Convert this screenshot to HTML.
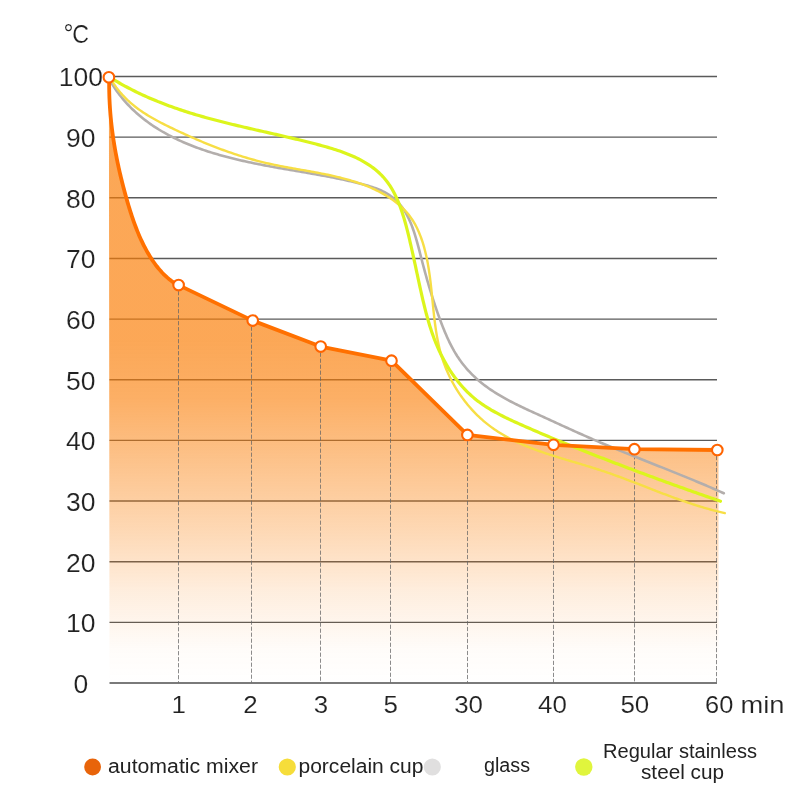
<!DOCTYPE html>
<html><head><meta charset="utf-8"><style>
html,body{margin:0;padding:0;background:#fff;width:800px;height:800px;overflow:hidden;font-family:"Liberation Sans",sans-serif;}
svg{display:block;will-change:transform;}
</style></head><body>
<svg width="800" height="800" viewBox="0 0 800 800">
<defs><linearGradient id="g" x1="0" y1="77" x2="0" y2="683" gradientUnits="userSpaceOnUse"><stop offset="0.0000" stop-color="rgb(250,125,5)" stop-opacity="0.675"/><stop offset="0.4340" stop-color="rgb(250,125,5)" stop-opacity="0.675"/><stop offset="0.5297" stop-color="rgb(250,125,5)" stop-opacity="0.615"/><stop offset="0.6370" stop-color="rgb(250,125,5)" stop-opacity="0.460"/><stop offset="0.7475" stop-color="rgb(250,125,5)" stop-opacity="0.300"/><stop offset="0.8465" stop-color="rgb(250,125,5)" stop-opacity="0.135"/><stop offset="0.9422" stop-color="rgb(250,125,5)" stop-opacity="0.025"/><stop offset="1.0000" stop-color="rgb(250,125,5)" stop-opacity="0.000"/></linearGradient></defs>
<line x1="109.5" y1="683.00" x2="717.0" y2="683.00" stroke="#7a7a7a" stroke-width="2"/>
<line x1="109.5" y1="622.35" x2="717.0" y2="622.35" stroke="#5a5a5a" stroke-width="1.4"/>
<line x1="109.5" y1="561.70" x2="717.0" y2="561.70" stroke="#5a5a5a" stroke-width="1.4"/>
<line x1="109.5" y1="501.05" x2="717.0" y2="501.05" stroke="#5a5a5a" stroke-width="1.4"/>
<line x1="109.5" y1="440.40" x2="717.0" y2="440.40" stroke="#5a5a5a" stroke-width="1.4"/>
<line x1="109.5" y1="379.75" x2="717.0" y2="379.75" stroke="#5a5a5a" stroke-width="1.4"/>
<line x1="109.5" y1="319.10" x2="717.0" y2="319.10" stroke="#5a5a5a" stroke-width="1.4"/>
<line x1="109.5" y1="258.45" x2="717.0" y2="258.45" stroke="#5a5a5a" stroke-width="1.4"/>
<line x1="109.5" y1="197.80" x2="717.0" y2="197.80" stroke="#5a5a5a" stroke-width="1.4"/>
<line x1="109.5" y1="137.15" x2="717.0" y2="137.15" stroke="#5a5a5a" stroke-width="1.4"/>
<line x1="109.5" y1="76.50" x2="717.0" y2="76.50" stroke="#5a5a5a" stroke-width="1.4"/>
<path d="M108.90,77.30 L109.18,78.78 L109.16,80.73 L109.15,82.67 L109.15,84.61 L109.16,86.54 L109.18,88.47 L109.21,90.40 L109.25,92.33 L109.30,94.25 L109.36,96.17 L109.43,98.08 L109.52,100.00 L109.61,101.91 L109.71,103.82 L109.82,105.72 L109.94,107.63 L110.08,109.53 L110.22,111.43 L110.37,113.32 L110.53,115.22 L110.70,117.11 L110.88,119.00 L111.07,120.89 L111.27,122.77 L111.48,124.65 L111.69,126.54 L111.92,128.42 L112.16,130.29 L112.40,132.17 L112.65,134.05 L112.92,135.92 L113.19,137.79 L113.47,139.66 L113.76,141.53 L114.05,143.40 L114.36,145.26 L114.67,147.13 L115.00,148.99 L115.33,150.86 L115.67,152.72 L116.02,154.58 L116.37,156.44 L116.74,158.30 L117.11,160.16 L117.49,162.02 L117.88,163.87 L118.27,165.73 L118.67,167.59 L119.09,169.44 L119.50,171.30 L119.93,173.15 L120.37,175.01 L120.81,176.86 L121.26,178.72 L121.71,180.57 L122.17,182.43 L122.65,184.28 L123.12,186.14 L123.61,187.99 L124.10,189.85 L124.60,191.70 L125.10,193.56 L125.62,195.42 L126.13,197.27 L126.66,199.13 L127.19,200.99 L127.73,202.85 L128.28,204.70 L128.84,206.56 L129.40,208.41 L129.98,210.26 L130.56,212.11 L131.16,213.96 L131.76,215.80 L132.38,217.63 L133.00,219.47 L133.64,221.29 L134.30,223.11 L134.96,224.93 L135.64,226.74 L136.33,228.54 L137.04,230.33 L137.76,232.11 L138.50,233.89 L139.25,235.65 L140.02,237.41 L140.81,239.16 L141.61,240.89 L142.43,242.62 L143.27,244.33 L144.12,246.03 L145.00,247.71 L145.89,249.39 L146.81,251.05 L147.74,252.69 L148.70,254.32 L149.67,255.94 L150.67,257.54 L151.69,259.12 L152.73,260.68 L153.80,262.23 L154.89,263.76 L156.01,265.27 L157.15,266.75 L158.32,268.21 L159.53,269.65 L160.76,271.06 L162.02,272.45 L163.31,273.80 L164.64,275.13 L166.01,276.42 L167.40,277.68 L168.84,278.91 L170.31,280.10 L171.83,281.26 L173.38,282.38 L174.97,283.46 L176.61,284.50 L178.60,285.10 L252.70,320.60 L320.66,346.60 L391.50,360.70 L467.40,434.90 L553.50,444.80 L634.40,449.20 L717.30,450.00 L718.5,450.2 L718.5,683 L109.5,683 Z" fill="url(#g)"/>
<line x1="178.5" y1="285.1" x2="178.5" y2="682.5" stroke="#666" stroke-width="1" stroke-dasharray="4.2,1.8" stroke-opacity="0.75"/>
<line x1="251.5" y1="320.6" x2="251.5" y2="682.5" stroke="#666" stroke-width="1" stroke-dasharray="4.2,1.8" stroke-opacity="0.75"/>
<line x1="320.5" y1="346.6" x2="320.5" y2="682.5" stroke="#666" stroke-width="1" stroke-dasharray="4.2,1.8" stroke-opacity="0.75"/>
<line x1="390.5" y1="360.7" x2="390.5" y2="682.5" stroke="#666" stroke-width="1" stroke-dasharray="4.2,1.8" stroke-opacity="0.75"/>
<line x1="467.5" y1="434.9" x2="467.5" y2="682.5" stroke="#666" stroke-width="1" stroke-dasharray="4.2,1.8" stroke-opacity="0.75"/>
<line x1="553.5" y1="444.8" x2="553.5" y2="682.5" stroke="#666" stroke-width="1" stroke-dasharray="4.2,1.8" stroke-opacity="0.75"/>
<line x1="634.5" y1="449.2" x2="634.5" y2="682.5" stroke="#666" stroke-width="1" stroke-dasharray="4.2,1.8" stroke-opacity="0.75"/>
<line x1="716.5" y1="450.0" x2="716.5" y2="682.5" stroke="#666" stroke-width="1" stroke-dasharray="4.2,1.8" stroke-opacity="0.75"/>
<path d="M108.12,77.16 L109.13,78.99 L110.16,80.81 L111.22,82.59 L112.30,84.35 L113.40,86.09 L114.52,87.79 L115.67,89.48 L116.83,91.14 L118.02,92.77 L119.23,94.38 L120.46,95.97 L121.71,97.53 L122.99,99.07 L124.28,100.59 L125.59,102.08 L126.92,103.55 L128.27,104.99 L129.63,106.42 L131.02,107.82 L132.42,109.20 L133.85,110.55 L135.29,111.89 L136.74,113.20 L138.22,114.50 L139.71,115.77 L141.22,117.02 L142.74,118.25 L144.28,119.46 L145.84,120.65 L147.41,121.82 L148.99,122.97 L150.59,124.10 L152.20,125.22 L153.83,126.31 L155.48,127.38 L157.13,128.44 L158.80,129.48 L160.48,130.50 L162.18,131.50 L163.88,132.48 L165.60,133.45 L167.34,134.40 L169.08,135.33 L170.83,136.25 L172.60,137.15 L174.37,138.03 L176.16,138.90 L177.95,139.75 L179.76,140.58 L181.57,141.40 L183.40,142.21 L185.23,143.00 L187.07,143.77 L188.92,144.53 L190.78,145.28 L192.65,146.01 L194.52,146.73 L196.40,147.44 L198.29,148.13 L200.18,148.81 L202.08,149.48 L203.99,150.13 L205.90,150.77 L207.82,151.40 L209.74,152.02 L211.67,152.62 L213.60,153.22 L215.54,153.80 L217.48,154.37 L219.42,154.93 L221.37,155.48 L223.32,156.02 L225.27,156.55 L227.23,157.07 L229.19,157.58 L231.15,158.07 L233.11,158.57 L235.07,159.05 L237.04,159.52 L239.00,159.98 L240.97,160.44 L242.93,160.89 L244.90,161.33 L246.86,161.76 L248.83,162.18 L250.79,162.60 L252.76,163.01 L254.72,163.41 L256.68,163.81 L258.65,164.20 L260.61,164.59 L262.57,164.97 L264.53,165.35 L266.50,165.72 L268.46,166.08 L270.42,166.44 L272.38,166.80 L274.34,167.16 L276.30,167.51 L278.26,167.86 L280.22,168.20 L282.18,168.55 L284.14,168.89 L286.10,169.23 L288.06,169.56 L290.02,169.90 L291.98,170.24 L293.94,170.57 L295.90,170.91 L297.85,171.24 L299.81,171.58 L301.77,171.91 L303.73,172.25 L305.69,172.58 L307.64,172.92 L309.60,173.26 L311.56,173.61 L313.52,173.95 L315.48,174.30 L317.43,174.65 L319.39,175.00 L321.35,175.36 L323.30,175.72 L325.26,176.09 L327.22,176.45 L329.18,176.83 L331.13,177.21 L333.09,177.59 L335.05,177.98 L337.00,178.38 L338.96,178.78 L340.92,179.19 L342.88,179.60 L344.83,180.02 L346.79,180.45 L348.75,180.89 L350.71,181.33 L352.66,181.79 L354.62,182.25 L356.58,182.72 L358.54,183.20 L360.49,183.69 L362.45,184.19 L364.39,184.71 L366.33,185.25 L368.26,185.81 L370.17,186.39 L372.06,187.00 L373.94,187.63 L375.79,188.30 L377.61,189.01 L379.41,189.75 L381.18,190.53 L382.91,191.36 L384.61,192.23 L386.27,193.14 L387.88,194.11 L389.45,195.13 L390.98,196.21 L392.46,197.33 L393.90,198.50 L395.30,199.73 L396.65,201.00 L397.95,202.33 L399.20,203.70 L400.41,205.12 L401.58,206.59 L402.69,208.11 L403.76,209.67 L404.79,211.27 L405.78,212.92 L406.72,214.60 L407.63,216.32 L408.50,218.07 L409.34,219.86 L410.15,221.68 L410.92,223.52 L411.67,225.39 L412.39,227.29 L413.08,229.21 L413.75,231.14 L414.40,233.10 L415.02,235.07 L415.63,237.06 L416.22,239.06 L416.80,241.07 L417.36,243.09 L417.91,245.11 L418.45,247.14 L418.98,249.17 L419.51,251.20 L420.03,253.22 L420.55,255.24 L421.06,257.26 L421.58,259.27 L422.10,261.27 L422.62,263.26 L423.14,265.24 L423.67,267.21 L424.20,269.17 L424.73,271.13 L425.26,273.08 L425.80,275.02 L426.34,276.96 L426.88,278.89 L427.43,280.81 L427.98,282.73 L428.54,284.64 L429.10,286.54 L429.67,288.44 L430.24,290.34 L430.82,292.23 L431.40,294.12 L431.99,296.00 L432.58,297.88 L433.18,299.76 L433.79,301.63 L434.41,303.51 L435.03,305.38 L435.66,307.24 L436.29,309.11 L436.94,310.97 L437.59,312.84 L438.25,314.70 L438.92,316.56 L439.60,318.42 L440.29,320.29 L440.98,322.15 L441.69,324.01 L442.41,325.87 L443.14,327.72 L443.89,329.57 L444.65,331.42 L445.42,333.26 L446.21,335.09 L447.02,336.92 L447.84,338.73 L448.69,340.54 L449.55,342.33 L450.44,344.11 L451.34,345.88 L452.27,347.64 L453.23,349.38 L454.20,351.11 L455.21,352.81 L456.24,354.51 L457.29,356.18 L458.38,357.83 L459.49,359.46 L460.63,361.07 L461.81,362.66 L463.01,364.23 L464.24,365.77 L465.50,367.29 L466.78,368.79 L468.09,370.27 L469.43,371.72 L470.79,373.15 L472.18,374.56 L473.59,375.94 L475.03,377.30 L476.49,378.63 L477.97,379.94 L479.47,381.23 L480.99,382.49 L482.54,383.72 L484.10,384.94 L485.68,386.13 L487.28,387.29 L488.90,388.44 L490.53,389.57 L492.19,390.67 L493.85,391.76 L495.53,392.83 L497.23,393.88 L498.94,394.92 L500.66,395.93 L502.40,396.94 L504.14,397.92 L505.90,398.89 L507.66,399.85 L509.44,400.80 L511.22,401.73 L513.02,402.66 L514.82,403.57 L516.62,404.47 L518.44,405.36 L520.25,406.25 L522.08,407.12 L523.90,407.99 L525.73,408.86 L527.56,409.71 L529.40,410.56 L531.23,411.41 L533.07,412.25 L534.90,413.09 L536.74,413.93 L538.57,414.77 L540.40,415.61 L542.23,416.44 L544.05,417.28 L545.87,418.11 L547.69,418.94 L549.51,419.78 L551.33,420.61 L553.14,421.44 L554.95,422.27 L556.76,423.10 L558.57,423.93 L560.38,424.76 L562.19,425.58 L564.00,426.41 L565.80,427.23 L567.61,428.05 L569.42,428.87 L571.22,429.69 L573.03,430.50 L574.83,431.32 L576.64,432.13 L578.45,432.94 L580.26,433.74 L582.06,434.55 L583.87,435.35 L585.69,436.15 L587.50,436.95 L589.31,437.74 L591.13,438.53 L592.95,439.32 L594.77,440.11 L596.59,440.89 L598.42,441.67 L600.25,442.45 L602.08,443.22 L603.91,443.99 L605.74,444.76 L607.58,445.53 L609.41,446.29 L611.25,447.06 L613.09,447.82 L614.94,448.57 L616.78,449.33 L618.62,450.08 L620.47,450.84 L622.32,451.59 L624.17,452.34 L626.02,453.09 L627.87,453.83 L629.72,454.58 L631.57,455.32 L633.43,456.07 L635.28,456.81 L637.14,457.55 L638.99,458.29 L640.85,459.03 L642.71,459.77 L644.56,460.51 L646.42,461.25 L648.28,461.99 L650.14,462.73 L652.00,463.46 L653.86,464.20 L655.71,464.94 L657.57,465.68 L659.43,466.42 L661.29,467.16 L663.15,467.90 L665.01,468.64 L666.86,469.38 L668.72,470.13 L670.57,470.87 L672.43,471.61 L674.28,472.36 L676.14,473.11 L677.99,473.86 L679.84,474.61 L681.69,475.36 L683.54,476.11 L685.39,476.87 L687.24,477.62 L689.09,478.38 L690.93,479.14 L692.78,479.91 L694.62,480.67 L696.46,481.44 L698.30,482.21 L700.14,482.98 L701.97,483.76 L703.80,484.54 L705.64,485.32 L707.47,486.10 L709.29,486.89 L711.12,487.68 L712.94,488.47 L714.76,489.27 L716.58,490.07 L718.40,490.87 L720.21,491.68 L722.02,492.49 L723.83,493.30" fill="none" stroke="#b3aeac" stroke-width="2.6" stroke-linecap="round"/>
<path d="M109.45,76.32 L110.50,78.28 L111.58,80.19 L112.70,82.05 L113.86,83.87 L115.06,85.65 L116.28,87.38 L117.54,89.07 L118.84,90.72 L120.16,92.33 L121.52,93.90 L122.91,95.44 L124.32,96.93 L125.76,98.39 L127.23,99.82 L128.73,101.21 L130.25,102.57 L131.80,103.90 L133.37,105.20 L134.96,106.47 L136.57,107.71 L138.21,108.92 L139.86,110.11 L141.54,111.27 L143.23,112.41 L144.94,113.53 L146.66,114.62 L148.40,115.69 L150.16,116.74 L151.93,117.78 L153.71,118.79 L155.50,119.79 L157.31,120.77 L159.12,121.74 L160.94,122.70 L162.77,123.64 L164.61,124.57 L166.46,125.49 L168.31,126.40 L170.16,127.30 L172.02,128.20 L173.88,129.09 L175.75,129.97 L177.61,130.85 L179.48,131.73 L181.35,132.59 L183.22,133.46 L185.09,134.31 L186.97,135.16 L188.84,136.01 L190.72,136.85 L192.60,137.68 L194.49,138.50 L196.37,139.32 L198.26,140.13 L200.15,140.94 L202.05,141.74 L203.95,142.53 L205.84,143.31 L207.75,144.09 L209.65,144.85 L211.56,145.61 L213.47,146.37 L215.39,147.11 L217.30,147.84 L219.22,148.57 L221.15,149.29 L223.07,150.00 L225.00,150.70 L226.94,151.39 L228.87,152.07 L230.82,152.74 L232.76,153.41 L234.71,154.06 L236.66,154.70 L238.62,155.33 L240.58,155.96 L242.54,156.57 L244.51,157.17 L246.48,157.76 L248.45,158.34 L250.43,158.91 L252.42,159.47 L254.41,160.02 L256.40,160.56 L258.40,161.08 L260.40,161.59 L262.41,162.09 L264.42,162.58 L266.43,163.06 L268.45,163.52 L270.48,163.97 L272.51,164.41 L274.54,164.84 L276.58,165.27 L278.62,165.68 L280.66,166.08 L282.71,166.48 L284.76,166.87 L286.81,167.25 L288.86,167.63 L290.92,168.00 L292.97,168.37 L295.03,168.74 L297.09,169.10 L299.15,169.47 L301.21,169.83 L303.26,170.19 L305.32,170.55 L307.38,170.92 L309.43,171.28 L311.49,171.65 L313.54,172.03 L315.59,172.40 L317.63,172.78 L319.68,173.17 L321.72,173.57 L323.76,173.97 L325.79,174.38 L327.82,174.80 L329.85,175.23 L331.87,175.67 L333.89,176.12 L335.90,176.58 L337.91,177.05 L339.91,177.54 L341.91,178.04 L343.89,178.56 L345.88,179.09 L347.85,179.64 L349.82,180.20 L351.78,180.79 L353.73,181.39 L355.68,182.01 L357.61,182.65 L359.54,183.31 L361.46,183.99 L363.37,184.70 L365.26,185.43 L367.15,186.18 L369.03,186.95 L370.90,187.76 L372.76,188.58 L374.60,189.44 L376.44,190.32 L378.26,191.23 L380.07,192.16 L381.87,193.13 L383.65,194.13 L385.42,195.16 L387.17,196.22 L388.89,197.31 L390.60,198.43 L392.28,199.59 L393.94,200.78 L395.56,202.00 L397.16,203.26 L398.72,204.55 L400.25,205.88 L401.74,207.24 L403.20,208.64 L404.61,210.08 L405.98,211.55 L407.31,213.06 L408.59,214.61 L409.82,216.20 L411.01,217.83 L412.14,219.50 L413.22,221.20 L414.26,222.93 L415.26,224.70 L416.21,226.50 L417.12,228.32 L417.99,230.17 L418.82,232.04 L419.61,233.94 L420.37,235.86 L421.09,237.79 L421.78,239.74 L422.43,241.71 L423.06,243.69 L423.65,245.68 L424.21,247.68 L424.75,249.69 L425.26,251.70 L425.75,253.72 L426.22,255.74 L426.66,257.77 L427.08,259.80 L427.48,261.84 L427.86,263.88 L428.22,265.93 L428.56,267.98 L428.89,270.03 L429.20,272.08 L429.50,274.14 L429.78,276.20 L430.06,278.27 L430.32,280.33 L430.57,282.40 L430.81,284.47 L431.04,286.54 L431.27,288.61 L431.49,290.68 L431.70,292.75 L431.91,294.82 L432.12,296.90 L432.33,298.97 L432.53,301.04 L432.74,303.11 L432.95,305.18 L433.16,307.25 L433.37,309.32 L433.58,311.39 L433.81,313.45 L434.03,315.51 L434.27,317.57 L434.51,319.63 L434.77,321.69 L435.03,323.74 L435.31,325.78 L435.60,327.83 L435.90,329.87 L436.21,331.90 L436.55,333.94 L436.89,335.96 L437.26,337.98 L437.65,340.00 L438.05,342.01 L438.48,344.02 L438.93,346.02 L439.40,348.01 L439.89,350.00 L440.41,351.98 L440.96,353.95 L441.53,355.91 L442.13,357.87 L442.76,359.82 L443.42,361.77 L444.11,363.70 L444.83,365.63 L445.58,367.54 L446.36,369.45 L447.17,371.34 L448.01,373.23 L448.87,375.10 L449.77,376.96 L450.69,378.81 L451.64,380.65 L452.61,382.47 L453.61,384.28 L454.64,386.07 L455.70,387.85 L456.78,389.61 L457.89,391.36 L459.02,393.09 L460.18,394.80 L461.36,396.50 L462.56,398.17 L463.79,399.83 L465.05,401.47 L466.32,403.09 L467.62,404.69 L468.95,406.27 L470.29,407.83 L471.66,409.36 L473.05,410.88 L474.46,412.37 L475.89,413.83 L477.34,415.28 L478.82,416.70 L480.31,418.09 L481.82,419.46 L483.35,420.80 L484.91,422.12 L486.48,423.41 L488.07,424.67 L489.67,425.90 L491.30,427.11 L492.94,428.29 L494.60,429.44 L496.28,430.57 L497.97,431.68 L499.68,432.75 L501.41,433.81 L503.15,434.84 L504.90,435.85 L506.67,436.83 L508.45,437.80 L510.25,438.74 L512.06,439.67 L513.88,440.57 L515.71,441.45 L517.56,442.32 L519.41,443.17 L521.28,444.00 L523.16,444.82 L525.05,445.61 L526.95,446.40 L528.86,447.17 L530.77,447.92 L532.70,448.66 L534.63,449.39 L536.57,450.11 L538.52,450.81 L540.47,451.50 L542.43,452.19 L544.40,452.86 L546.38,453.52 L548.35,454.18 L550.34,454.82 L552.32,455.46 L554.32,456.09 L556.31,456.72 L558.31,457.34 L560.31,457.96 L562.31,458.57 L564.32,459.17 L566.33,459.78 L568.33,460.38 L570.34,460.98 L572.35,461.58 L574.36,462.17 L576.37,462.77 L578.38,463.37 L580.38,463.97 L582.39,464.57 L584.39,465.17 L586.39,465.78 L588.39,466.39 L590.38,467.00 L592.37,467.62 L594.35,468.24 L596.33,468.87 L598.31,469.51 L600.28,470.15 L602.24,470.80 L604.20,471.46 L606.16,472.12 L608.11,472.80 L610.05,473.48 L611.99,474.16 L613.92,474.85 L615.85,475.55 L617.78,476.25 L619.70,476.95 L621.62,477.67 L623.54,478.38 L625.45,479.10 L627.36,479.82 L629.27,480.55 L631.18,481.27 L633.08,482.00 L634.98,482.74 L636.88,483.47 L638.78,484.21 L640.68,484.95 L642.58,485.68 L644.48,486.42 L646.37,487.16 L648.27,487.90 L650.17,488.64 L652.06,489.38 L653.96,490.12 L655.86,490.85 L657.76,491.58 L659.66,492.32 L661.57,493.04 L663.47,493.77 L665.38,494.49 L667.29,495.21 L669.20,495.93 L671.12,496.64 L673.03,497.35 L674.96,498.05 L676.88,498.75 L678.81,499.44 L680.74,500.13 L682.68,500.81 L684.62,501.49 L686.57,502.15 L688.52,502.82 L690.48,503.47 L692.44,504.12 L694.41,504.75 L696.38,505.38 L698.36,506.00 L700.35,506.62 L702.34,507.22 L704.34,507.81 L706.35,508.39 L708.36,508.97 L710.39,509.53 L712.42,510.08 L714.45,510.62 L716.50,511.15 L718.56,511.67 L720.62,512.17 L722.69,512.66 L724.78,513.14" fill="none" stroke="#f7de45" stroke-width="2.4" stroke-linecap="round"/>
<path d="M108.60,76.50 L110.40,77.63 L112.20,78.74 L114.00,79.83 L115.80,80.90 L117.61,81.96 L119.42,83.00 L121.23,84.03 L123.04,85.04 L124.86,86.04 L126.68,87.02 L128.51,87.99 L130.33,88.94 L132.16,89.88 L133.99,90.80 L135.83,91.71 L137.66,92.61 L139.50,93.49 L141.35,94.36 L143.19,95.22 L145.04,96.06 L146.89,96.89 L148.74,97.71 L150.60,98.51 L152.46,99.30 L154.32,100.09 L156.18,100.85 L158.05,101.61 L159.92,102.36 L161.79,103.10 L163.66,103.82 L165.54,104.53 L167.41,105.24 L169.29,105.93 L171.18,106.62 L173.06,107.29 L174.95,107.95 L176.84,108.61 L178.73,109.25 L180.63,109.89 L182.52,110.52 L184.42,111.14 L186.32,111.75 L188.23,112.35 L190.13,112.95 L192.04,113.53 L193.95,114.11 L195.86,114.68 L197.78,115.25 L199.70,115.81 L201.61,116.36 L203.54,116.90 L205.46,117.44 L207.38,117.98 L209.31,118.50 L211.24,119.02 L213.17,119.54 L215.10,120.05 L217.04,120.56 L218.98,121.06 L220.91,121.55 L222.86,122.05 L224.80,122.53 L226.74,123.02 L228.69,123.50 L230.64,123.97 L232.59,124.45 L234.54,124.92 L236.49,125.38 L238.45,125.85 L240.41,126.31 L242.36,126.77 L244.32,127.23 L246.29,127.68 L248.25,128.14 L250.22,128.59 L252.18,129.04 L254.15,129.49 L256.12,129.94 L258.10,130.39 L260.07,130.84 L262.04,131.29 L264.02,131.73 L266.00,132.18 L267.98,132.63 L269.96,133.08 L271.94,133.53 L273.93,133.98 L275.91,134.43 L277.90,134.89 L279.89,135.34 L281.88,135.80 L283.87,136.26 L285.86,136.72 L287.86,137.19 L289.85,137.66 L291.85,138.13 L293.85,138.60 L295.85,139.08 L297.85,139.56 L299.85,140.04 L301.85,140.53 L303.85,141.02 L305.86,141.52 L307.87,142.02 L309.87,142.52 L311.88,143.03 L313.89,143.55 L315.90,144.07 L317.91,144.60 L319.92,145.14 L321.93,145.68 L323.93,146.24 L325.93,146.80 L327.92,147.38 L329.91,147.96 L331.89,148.56 L333.86,149.17 L335.82,149.80 L337.77,150.45 L339.71,151.10 L341.64,151.78 L343.55,152.48 L345.46,153.19 L347.34,153.92 L349.21,154.68 L351.06,155.45 L352.90,156.25 L354.72,157.07 L356.51,157.91 L358.29,158.78 L360.04,159.68 L361.77,160.60 L363.48,161.55 L365.16,162.53 L366.81,163.53 L368.44,164.57 L370.04,165.64 L371.61,166.74 L373.15,167.87 L374.67,169.04 L376.15,170.24 L377.59,171.48 L379.01,172.75 L380.38,174.06 L381.73,175.41 L383.03,176.79 L384.30,178.22 L385.53,179.69 L386.72,181.19 L387.87,182.74 L388.99,184.33 L390.07,185.95 L391.11,187.61 L392.12,189.30 L393.09,191.02 L394.04,192.78 L394.95,194.56 L395.83,196.37 L396.68,198.21 L397.51,200.07 L398.30,201.95 L399.07,203.85 L399.82,205.78 L400.54,207.72 L401.24,209.68 L401.92,211.66 L402.57,213.64 L403.21,215.64 L403.82,217.65 L404.42,219.67 L405.00,221.70 L405.57,223.73 L406.12,225.76 L406.66,227.80 L407.18,229.84 L407.69,231.88 L408.19,233.92 L408.69,235.95 L409.17,237.98 L409.65,240.00 L410.11,242.02 L410.58,244.03 L411.03,246.02 L411.48,248.02 L411.93,250.00 L412.37,251.98 L412.81,253.96 L413.24,255.93 L413.67,257.89 L414.10,259.85 L414.53,261.81 L414.95,263.76 L415.37,265.71 L415.79,267.66 L416.20,269.60 L416.62,271.54 L417.04,273.49 L417.46,275.43 L417.87,277.37 L418.29,279.31 L418.71,281.25 L419.13,283.19 L419.56,285.14 L419.98,287.08 L420.41,289.03 L420.85,290.98 L421.28,292.93 L421.72,294.89 L422.17,296.85 L422.62,298.80 L423.08,300.76 L423.54,302.73 L424.02,304.69 L424.50,306.65 L424.99,308.61 L425.49,310.57 L426.00,312.53 L426.51,314.48 L427.05,316.44 L427.59,318.39 L428.14,320.34 L428.71,322.29 L429.29,324.23 L429.89,326.17 L430.50,328.10 L431.13,330.03 L431.77,331.95 L432.44,333.87 L433.11,335.78 L433.81,337.68 L434.52,339.58 L435.26,341.47 L436.01,343.35 L436.79,345.22 L437.59,347.09 L438.40,348.95 L439.24,350.79 L440.10,352.63 L440.98,354.45 L441.89,356.26 L442.81,358.06 L443.76,359.85 L444.73,361.62 L445.72,363.38 L446.74,365.13 L447.77,366.86 L448.83,368.57 L449.91,370.27 L451.01,371.95 L452.14,373.62 L453.29,375.26 L454.46,376.89 L455.65,378.50 L456.87,380.09 L458.11,381.66 L459.38,383.20 L460.66,384.73 L461.97,386.23 L463.31,387.71 L464.66,389.17 L466.05,390.60 L467.45,392.01 L468.88,393.40 L470.33,394.76 L471.81,396.09 L473.31,397.40 L474.83,398.67 L476.38,399.93 L477.96,401.15 L479.55,402.34 L481.17,403.51 L482.82,404.65 L484.48,405.77 L486.16,406.86 L487.86,407.93 L489.58,408.98 L491.32,410.01 L493.07,411.01 L494.84,412.00 L496.61,412.97 L498.41,413.93 L500.21,414.87 L502.03,415.79 L503.85,416.70 L505.68,417.60 L507.52,418.49 L509.37,419.36 L511.22,420.23 L513.08,421.09 L514.94,421.94 L516.81,422.78 L518.67,423.62 L520.54,424.46 L522.40,425.29 L524.27,426.12 L526.14,426.94 L528.00,427.76 L529.87,428.58 L531.73,429.39 L533.60,430.20 L535.47,431.01 L537.33,431.81 L539.20,432.61 L541.06,433.41 L542.93,434.20 L544.80,434.99 L546.66,435.78 L548.53,436.56 L550.40,437.35 L552.27,438.13 L554.13,438.90 L556.00,439.68 L557.87,440.45 L559.74,441.22 L561.61,441.98 L563.48,442.75 L565.35,443.51 L567.22,444.27 L569.09,445.03 L570.96,445.78 L572.83,446.54 L574.70,447.29 L576.57,448.04 L578.44,448.78 L580.32,449.53 L582.19,450.27 L584.06,451.01 L585.94,451.75 L587.81,452.49 L589.69,453.23 L591.56,453.96 L593.44,454.70 L595.31,455.43 L597.19,456.16 L599.07,456.89 L600.95,457.62 L602.82,458.35 L604.70,459.07 L606.58,459.80 L608.46,460.52 L610.35,461.24 L612.23,461.96 L614.11,462.68 L615.99,463.40 L617.88,464.12 L619.76,464.84 L621.64,465.55 L623.53,466.27 L625.42,466.98 L627.30,467.69 L629.19,468.40 L631.08,469.11 L632.97,469.82 L634.85,470.53 L636.74,471.24 L638.63,471.94 L640.52,472.65 L642.42,473.35 L644.31,474.05 L646.20,474.75 L648.09,475.45 L649.99,476.15 L651.88,476.85 L653.77,477.54 L655.67,478.24 L657.57,478.93 L659.46,479.63 L661.36,480.32 L663.26,481.01 L665.16,481.70 L667.05,482.39 L668.95,483.08 L670.85,483.76 L672.75,484.45 L674.66,485.14 L676.56,485.82 L678.46,486.50 L680.36,487.18 L682.27,487.86 L684.17,488.54 L686.08,489.22 L687.98,489.90 L689.89,490.58 L691.79,491.25 L693.70,491.92 L695.61,492.60 L697.52,493.27 L699.43,493.94 L701.33,494.61 L703.24,495.28 L705.16,495.95 L707.07,496.62 L708.98,497.28 L710.89,497.95 L712.80,498.61 L714.72,499.28 L716.63,499.94 L718.55,500.60 L720.46,501.26" fill="none" stroke="#dcf51c" stroke-width="3.2" stroke-linecap="round"/>
<path d="M108.90,77.30 L109.18,78.78 L109.16,80.73 L109.15,82.67 L109.15,84.61 L109.16,86.54 L109.18,88.47 L109.21,90.40 L109.25,92.33 L109.30,94.25 L109.36,96.17 L109.43,98.08 L109.52,100.00 L109.61,101.91 L109.71,103.82 L109.82,105.72 L109.94,107.63 L110.08,109.53 L110.22,111.43 L110.37,113.32 L110.53,115.22 L110.70,117.11 L110.88,119.00 L111.07,120.89 L111.27,122.77 L111.48,124.65 L111.69,126.54 L111.92,128.42 L112.16,130.29 L112.40,132.17 L112.65,134.05 L112.92,135.92 L113.19,137.79 L113.47,139.66 L113.76,141.53 L114.05,143.40 L114.36,145.26 L114.67,147.13 L115.00,148.99 L115.33,150.86 L115.67,152.72 L116.02,154.58 L116.37,156.44 L116.74,158.30 L117.11,160.16 L117.49,162.02 L117.88,163.87 L118.27,165.73 L118.67,167.59 L119.09,169.44 L119.50,171.30 L119.93,173.15 L120.37,175.01 L120.81,176.86 L121.26,178.72 L121.71,180.57 L122.17,182.43 L122.65,184.28 L123.12,186.14 L123.61,187.99 L124.10,189.85 L124.60,191.70 L125.10,193.56 L125.62,195.42 L126.13,197.27 L126.66,199.13 L127.19,200.99 L127.73,202.85 L128.28,204.70 L128.84,206.56 L129.40,208.41 L129.98,210.26 L130.56,212.11 L131.16,213.96 L131.76,215.80 L132.38,217.63 L133.00,219.47 L133.64,221.29 L134.30,223.11 L134.96,224.93 L135.64,226.74 L136.33,228.54 L137.04,230.33 L137.76,232.11 L138.50,233.89 L139.25,235.65 L140.02,237.41 L140.81,239.16 L141.61,240.89 L142.43,242.62 L143.27,244.33 L144.12,246.03 L145.00,247.71 L145.89,249.39 L146.81,251.05 L147.74,252.69 L148.70,254.32 L149.67,255.94 L150.67,257.54 L151.69,259.12 L152.73,260.68 L153.80,262.23 L154.89,263.76 L156.01,265.27 L157.15,266.75 L158.32,268.21 L159.53,269.65 L160.76,271.06 L162.02,272.45 L163.31,273.80 L164.64,275.13 L166.01,276.42 L167.40,277.68 L168.84,278.91 L170.31,280.10 L171.83,281.26 L173.38,282.38 L174.97,283.46 L176.61,284.50 L178.60,285.10 L252.70,320.60 L320.66,346.60 L391.50,360.70 L467.40,434.90 L553.50,444.80 L634.40,449.20 L717.30,450.00" fill="none" stroke="#ff7000" stroke-width="3.8" stroke-linejoin="round"/>
<circle cx="108.9" cy="77.3" r="5.3" fill="#fff" stroke="#ff6400" stroke-width="2.1"/>
<circle cx="178.6" cy="285.1" r="5.3" fill="#fff" stroke="#ff6400" stroke-width="2.1"/>
<circle cx="252.7" cy="320.6" r="5.3" fill="#fff" stroke="#ff6400" stroke-width="2.1"/>
<circle cx="320.7" cy="346.6" r="5.3" fill="#fff" stroke="#ff6400" stroke-width="2.1"/>
<circle cx="391.5" cy="360.7" r="5.3" fill="#fff" stroke="#ff6400" stroke-width="2.1"/>
<circle cx="467.4" cy="434.9" r="5.3" fill="#fff" stroke="#ff6400" stroke-width="2.1"/>
<circle cx="553.5" cy="444.8" r="5.3" fill="#fff" stroke="#ff6400" stroke-width="2.1"/>
<circle cx="634.4" cy="449.2" r="5.3" fill="#fff" stroke="#ff6400" stroke-width="2.1"/>
<circle cx="717.3" cy="450.0" r="5.3" fill="#fff" stroke="#ff6400" stroke-width="2.1"/>
<text x="63.5" y="41.8" font-family="Liberation Sans, sans-serif" font-size="25" fill="#222" stroke="#fff" stroke-width="0.15">°</text>
<text x="0" y="0" font-family="Liberation Sans, sans-serif" font-size="25" fill="#222" stroke="#fff" stroke-width="0.15" transform="translate(72.3,42.6) scale(0.93,1.03)">C</text>
<text x="0" y="0" transform="translate(80.8,692.80) scale(1.06,1)" font-family="Liberation Sans, sans-serif" font-size="25" fill="#222" stroke="#fff" stroke-width="0.15" text-anchor="middle">0</text>
<text x="0" y="0" transform="translate(80.8,632.15) scale(1.06,1)" font-family="Liberation Sans, sans-serif" font-size="25" fill="#222" stroke="#fff" stroke-width="0.15" text-anchor="middle">10</text>
<text x="0" y="0" transform="translate(80.8,571.50) scale(1.06,1)" font-family="Liberation Sans, sans-serif" font-size="25" fill="#222" stroke="#fff" stroke-width="0.15" text-anchor="middle">20</text>
<text x="0" y="0" transform="translate(80.8,510.85) scale(1.06,1)" font-family="Liberation Sans, sans-serif" font-size="25" fill="#222" stroke="#fff" stroke-width="0.15" text-anchor="middle">30</text>
<text x="0" y="0" transform="translate(80.8,450.20) scale(1.06,1)" font-family="Liberation Sans, sans-serif" font-size="25" fill="#222" stroke="#fff" stroke-width="0.15" text-anchor="middle">40</text>
<text x="0" y="0" transform="translate(80.8,389.55) scale(1.06,1)" font-family="Liberation Sans, sans-serif" font-size="25" fill="#222" stroke="#fff" stroke-width="0.15" text-anchor="middle">50</text>
<text x="0" y="0" transform="translate(80.8,328.90) scale(1.06,1)" font-family="Liberation Sans, sans-serif" font-size="25" fill="#222" stroke="#fff" stroke-width="0.15" text-anchor="middle">60</text>
<text x="0" y="0" transform="translate(80.8,268.25) scale(1.06,1)" font-family="Liberation Sans, sans-serif" font-size="25" fill="#222" stroke="#fff" stroke-width="0.15" text-anchor="middle">70</text>
<text x="0" y="0" transform="translate(80.8,207.60) scale(1.06,1)" font-family="Liberation Sans, sans-serif" font-size="25" fill="#222" stroke="#fff" stroke-width="0.15" text-anchor="middle">80</text>
<text x="0" y="0" transform="translate(80.8,146.95) scale(1.06,1)" font-family="Liberation Sans, sans-serif" font-size="25" fill="#222" stroke="#fff" stroke-width="0.15" text-anchor="middle">90</text>
<text x="0" y="0" transform="translate(80.8,86.30) scale(1.06,1)" font-family="Liberation Sans, sans-serif" font-size="25" fill="#222" stroke="#fff" stroke-width="0.15" text-anchor="middle">100</text>
<text x="0" y="0" transform="translate(178.8,713) scale(1.08,1)" font-family="Liberation Sans, sans-serif" font-size="24" fill="#222" stroke="#fff" stroke-width="0.15" text-anchor="middle">1</text>
<text x="0" y="0" transform="translate(250.4,713) scale(1.08,1)" font-family="Liberation Sans, sans-serif" font-size="24" fill="#222" stroke="#fff" stroke-width="0.15" text-anchor="middle">2</text>
<text x="0" y="0" transform="translate(321.0,713) scale(1.08,1)" font-family="Liberation Sans, sans-serif" font-size="24" fill="#222" stroke="#fff" stroke-width="0.15" text-anchor="middle">3</text>
<text x="0" y="0" transform="translate(390.8,713) scale(1.08,1)" font-family="Liberation Sans, sans-serif" font-size="24" fill="#222" stroke="#fff" stroke-width="0.15" text-anchor="middle">5</text>
<text x="0" y="0" transform="translate(468.6,713) scale(1.08,1)" font-family="Liberation Sans, sans-serif" font-size="24" fill="#222" stroke="#fff" stroke-width="0.15" text-anchor="middle">30</text>
<text x="0" y="0" transform="translate(552.5,713) scale(1.08,1)" font-family="Liberation Sans, sans-serif" font-size="24" fill="#222" stroke="#fff" stroke-width="0.15" text-anchor="middle">40</text>
<text x="0" y="0" transform="translate(634.8,713) scale(1.08,1)" font-family="Liberation Sans, sans-serif" font-size="24" fill="#222" stroke="#fff" stroke-width="0.15" text-anchor="middle">50</text>
<text x="0" y="0" transform="translate(719.2,713) scale(1.06,1)" font-family="Liberation Sans, sans-serif" font-size="24" fill="#222" stroke="#fff" stroke-width="0.15" text-anchor="middle">60</text>
<text x="740.5" y="713" font-family="Liberation Sans, sans-serif" font-size="24" fill="#222" stroke="#fff" stroke-width="0.15" textLength="44" lengthAdjust="spacingAndGlyphs">min</text>
<circle cx="92.6" cy="767" r="8.4" fill="#e8640a"/>
<circle cx="287.3" cy="767" r="8.6" fill="#f6dd3a"/>
<circle cx="432.3" cy="767" r="8.6" fill="#e0dfdf"/>
<circle cx="583.8" cy="767" r="8.7" fill="#e0f53d"/>
<text x="108" y="773" font-family="Liberation Sans, sans-serif" font-size="20" fill="#222" textLength="150" lengthAdjust="spacingAndGlyphs">automatic mixer</text>
<text x="298.5" y="773" font-family="Liberation Sans, sans-serif" font-size="20" fill="#222" textLength="125" lengthAdjust="spacingAndGlyphs">porcelain cup</text>
<text x="484" y="771.5" font-family="Liberation Sans, sans-serif" font-size="20" fill="#222" textLength="46" lengthAdjust="spacingAndGlyphs">glass</text>
<text x="603" y="757.5" font-family="Liberation Sans, sans-serif" font-size="20" fill="#222" textLength="154" lengthAdjust="spacingAndGlyphs">Regular stainless</text>
<text x="641" y="778.5" font-family="Liberation Sans, sans-serif" font-size="20" fill="#222" textLength="83" lengthAdjust="spacingAndGlyphs">steel cup</text>
</svg>
</body></html>
